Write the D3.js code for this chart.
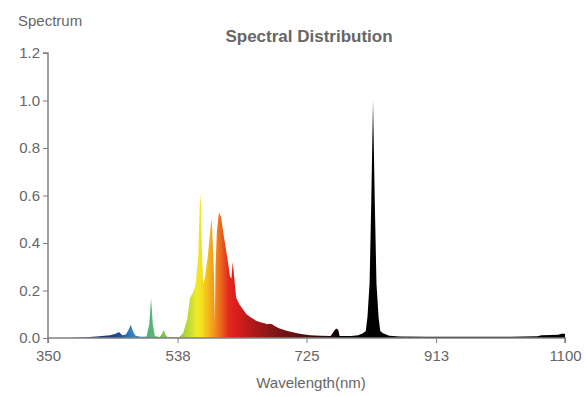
<!DOCTYPE html>
<html>
<head>
<meta charset="utf-8">
<script src="https://cdn.jsdelivr.net/npm/d3@7"></script>
<style>
  html, body { margin: 0; padding: 0; background: #fff; }
  svg text { font-family: "Liberation Sans", Arial, sans-serif; }
</style>
</head>
<body>
<div id="chart"></div>
<script>
// wavelength (nm) / relative intensity
const wavelengths = [380, 400, 420, 440, 448, 453, 458, 463, 467, 470, 473, 477, 485, 493, 497, 499.5, 502, 505, 512, 516, 518, 520, 524, 540,
  546, 552, 556, 560, 564, 568, 570, 571.5, 573, 575, 578, 582, 586, 587.5, 589, 591, 592, 593, 595, 598, 601, 605, 610, 614, 616, 618, 620, 623,
  628, 633, 638, 645, 652, 658, 664, 668, 672, 675, 680, 686, 695, 705, 715, 730, 745, 760, 765, 768, 771, 773, 790, 800, 807, 811, 813.5, 816.5, 819,
  821.5, 824, 826.5, 829.5, 832, 836, 845, 860, 900, 960, 1020, 1060, 1066, 1080, 1090, 1095, 1100];
const intensity = [0, 0.002, 0.006, 0.012, 0.018, 0.025, 0.012, 0.015, 0.035, 0.056, 0.03, 0.01, 0.005, 0.006, 0.06, 0.167, 0.06, 0.008, 0.004, 0.02, 0.036, 0.015, 0.003, 0.003,
  0.02, 0.08, 0.17, 0.19, 0.22, 0.35, 0.55, 0.61, 0.40, 0.23, 0.26, 0.35, 0.47, 0.50, 0.40, 0.25, 0.06, 0.30, 0.45, 0.528, 0.51, 0.43, 0.34, 0.26, 0.25, 0.32, 0.26, 0.17,
  0.14, 0.12, 0.10, 0.085, 0.073, 0.066, 0.062, 0.058, 0.060, 0.058, 0.048, 0.040, 0.032, 0.024, 0.018, 0.012, 0.009, 0.008, 0.03, 0.04, 0.035, 0.008, 0.008, 0.012, 0.02, 0.03, 0.09, 0.23, 0.58,
  1.0, 0.58, 0.23, 0.09, 0.03, 0.02, 0.01, 0.006, 0.005, 0.005, 0.005, 0.007, 0.012, 0.013, 0.014, 0.018, 0.018];

const xTicks = [350, 538, 725, 913, 1100];
const yTicks = [0, 0.2, 0.4, 0.6, 0.8, 1.0, 1.2];

// colour along the wavelength axis
const stopNm = [400, 440, 455, 470, 485, 495, 505, 515, 530, 546, 556, 565, 572, 580, 590, 600, 612, 625, 645, 670, 700, 730, 760, 780];
const stopColor = ['#1f2f6e', '#1f3d80', '#23509a', '#3080c4', '#3a8fb0', '#52b07a', '#5db872', '#7cc050', '#8ccc40', '#a4d040', '#c8dc30', '#ece830',
  '#f6e21e', '#f5c21c', '#f29a1c', '#eb6a1e', '#e3281e', '#d81c1c', '#b41a1a', '#8c1818', '#6a1212', '#401010', '#1a0606', '#000000'];

const data = wavelengths.map((w, i) => ({ w: w, v: intensity[i] }));

const W = 586, H = 397;
const margin = { top: 53, right: 21, bottom: 59, left: 48 };
const width = W - margin.left - margin.right;
const height = H - margin.top - margin.bottom;

const svg = d3.select('#chart').append('svg')
    .attr('width', W).attr('height', H);

const g = svg.append('g')
    .attr('transform', `translate(${margin.left},${margin.top})`);

const x = d3.scaleLinear().domain([350, 1100]).range([0, width]);
const y = d3.scaleLinear().domain([0, 1.2]).range([height, 0]);

// gradient
const grad = svg.append('defs').append('linearGradient')
    .attr('id', 'spec')
    .attr('gradientUnits', 'userSpaceOnUse')
    .attr('x1', x(350)).attr('x2', x(1100))
    .attr('y1', 0).attr('y2', 0);
stopNm.forEach((n, i) => {
    grad.append('stop')
        .attr('offset', (n - 350) / 750)
        .attr('stop-color', stopColor[i]);
});

const area = d3.area()
    .x(d => x(d.w))
    .y0(y(0))
    .y1(d => y(d.v));

g.append('path')
    .datum(data)
    .attr('fill', 'url(#spec)')
    .attr('d', area);

// axes
const xAxis = g.append('g')
    .attr('transform', `translate(0,${height})`)
    .call(d3.axisBottom(x).tickValues(xTicks).tickSize(5).tickPadding(7).tickFormat(d3.format('d')));

const yAxis = g.append('g')
    .call(d3.axisLeft(y).tickValues(yTicks).tickSize(5).tickPadding(3).tickFormat(d3.format('.1f')));

[xAxis, yAxis].forEach(a => {
    a.select('.domain').attr('stroke', '#808080').attr('stroke-width', 1.5);
    a.selectAll('.tick line').attr('stroke', '#808080');
    a.selectAll('.tick text').attr('fill', '#666').attr('font-size', '15px');
});
yAxis.select('.domain').attr('d', `M-5,${y(1.2)}H0V${height}`);
xAxis.select('.domain').attr('d', `M0,5V0H${width}V5`);

// labels
svg.append('text')
    .attr('x', 18).attr('y', 26)
    .attr('font-size', '15px').attr('fill', '#666')
    .text('Spectrum');

svg.append('text')
    .attr('x', 309).attr('y', 42)
    .attr('text-anchor', 'middle')
    .attr('font-size', '17px').attr('font-weight', 'bold').attr('fill', '#666')
    .text('Spectral Distribution');

svg.append('text')
    .attr('x', 311).attr('y', 388)
    .attr('text-anchor', 'middle')
    .attr('font-size', '15px').attr('fill', '#666')
    .text('Wavelength(nm)');
</script>
</body>
</html>
